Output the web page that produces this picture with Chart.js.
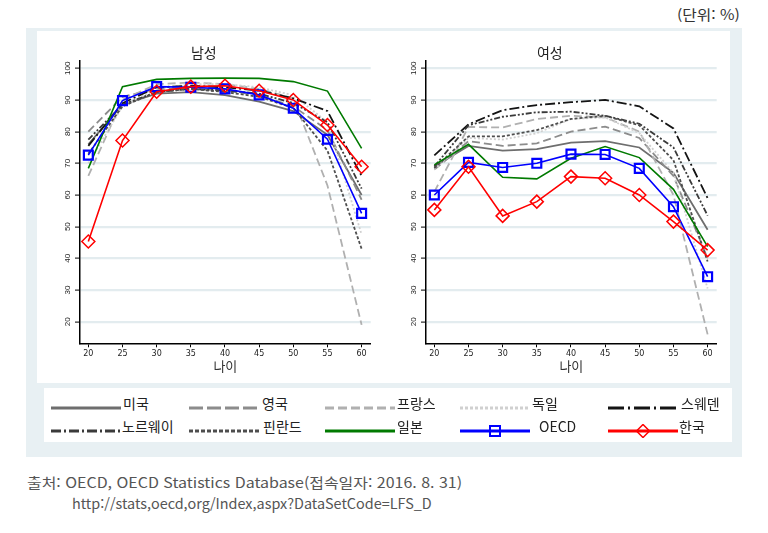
<!DOCTYPE html>
<html lang="ko">
<head>
<meta charset="UTF-8" />
<title>연령별 경제활동참가율</title>
<script src="https://cdn.jsdelivr.net/npm/chart.js"></script>
<style>
  body { margin: 0; width: 768px; height: 533px; background: #fff; position: relative; overflow: hidden;
         font-family: "Noto Sans CJK KR", "Liberation Sans", sans-serif; }
  .abs { position: absolute; }
  #frame { left: 26px; top: 28px; width: 716px; height: 429px; background: #e8f0f3; }
  #plots { left: 37px; top: 31px; width: 693px; height: 352px; background: #fff; }
  #legendBox { left: 44px; top: 388px; width: 688px; height: 54px; background: #fff; }
  .txt { white-space: nowrap; transform-origin: 0 50%; line-height: 16px; }
  .leg { font-size: 14px; color: #222; }
  .src { font-size: 14px; color: #555; }
</style>
</head>
<body>
<div id="frame" class="abs"></div>
<div id="plots" class="abs"></div>
<div id="legendBox" class="abs"></div>
<canvas id="maleChart" class="abs" style="left:37px;top:31px" width="360" height="352"></canvas>
<canvas id="femaleChart" class="abs" style="left:383px;top:31px" width="347" height="352"></canvas>
<div id="unit" class="abs txt src" style="left:677px;top:6px;color:#333">(단위: %)</div>
<div id="src1" class="abs txt src" style="left:27px;top:474px">출처: OECD, OECD Statistics Database(접속일자: 2016. 8. 31)</div>
<div id="src2" class="abs txt src" style="left:72px;top:495px">http://stats,oecd,org/Index,aspx?DataSetCode=LFS_D</div>

<script>
  // 연령 (x축)
  const ages = [20, 25, 30, 35, 40, 45, 50, 55, 60];
  const yTicks = [20, 30, 40, 50, 60, 70, 80, 90, 100];
  const countries = ["미국", "영국", "프랑스", "독일", "스웨덴", "노르웨이", "핀란드", "일본", "OECD", "한국"];

  // 남성
  const maleUS      = [76, 88.5, 92, 92.5, 91.5, 89.5, 86.5, 79, 60];
  const maleUK      = [80, 91, 93.5, 93.5, 93, 91.5, 88, 80.5, 58.5];
  const maleFrance  = [66, 90, 95, 95.5, 95, 93.5, 90.5, 63, 19];
  const maleGermany = [70, 88, 93.5, 95, 95, 94, 91.5, 83, 47.5];
  const maleSweden  = [75.5, 89, 94, 94.5, 94, 93, 90.5, 86.5, 66];
  const maleNorway  = [77.5, 88.5, 92.5, 93.5, 93, 92, 89, 83, 62];
  const maleFinland = [73, 88, 92.5, 93.5, 92.5, 91, 87.5, 74, 43];
  const maleJapan   = [68.4, 94.2, 96.5, 96.8, 96.9, 96.8, 95.8, 92.8, 74.7];
  const maleOECD    = [72.6, 89.8, 94.2, 94.0, 93.5, 91.6, 87.4, 77.6, 54.2];
  const maleKorea   = [45.3, 77.2, 92.6, 94.2, 94.5, 92.9, 90.0, 82.1, 68.9];

  // 여성
  const femaleUS      = [69, 75.5, 74, 74.5, 76.5, 77, 75, 67, 49];
  const femaleUK      = [68, 77, 75.5, 76.3, 80, 81.6, 78, 66, 40];
  const femaleFrance  = [61, 81.5, 81.3, 84, 85, 84.5, 80, 60, 16];
  const femaleGermany = [68, 78, 77.5, 79.5, 84, 84.5, 79.5, 67, 30.5];
  const femaleSweden  = [72.5, 82.3, 86.8, 88.4, 89.3, 90, 88, 81, 59];
  const femaleNorway  = [69, 82, 84.7, 86.1, 86.3, 85, 82.5, 75, 53.5];
  const femaleFinland = [68.5, 78.5, 78.5, 80.5, 84, 85, 82, 71, 39];
  const femaleJapan   = [69.5, 76.0, 65.6, 65.1, 71.6, 75.3, 71.8, 61.8, 43.7];
  const femaleOECD    = [60.0, 70.3, 68.7, 70.0, 72.9, 72.8, 68.4, 56.3, 34.2];
  const femaleKorea   = [55.3, 68.9, 53.4, 57.9, 65.8, 65.3, 60.0, 51.6, 42.6];

  // 선 스타일
  const lineColors = ["#6e6e6e", "#8c8c8c", "#b0b0b0", "#d0d0d0", "#141414", "#3a3a3a", "#4e4e4e", "#007a00", "#0000ff", "#ff0000"];
  const chartDash = [[], [8, 4], [8, 4], [2, 2], [10, 3, 2, 3], [6, 2, 2, 2, 2, 2], [3, 2], [], [], []];
  const legendDash = [[], [14, 4], [9, 4], [3, 2], [16, 4, 2, 4], [10, 3, 2, 3], [4, 2], [], [], []];

  function makeDatasets(series) {
    return series.map((vals, i) => ({
      label: countries[i],
      data: ages.map((a, j) => ({ x: a, y: vals[j] })),
      borderColor: lineColors[i],
      borderDash: chartDash[i],
      borderWidth: i >= 7 ? 1.6 : 1.8,
      backgroundColor: "rgba(0,0,0,0)",
      pointStyle: i === 8 ? "rect" : "rectRot",
      pointRadius: i === 8 ? 6.3 : i === 9 ? 6.5 : 0,
      pointBorderWidth: i === 8 ? 2.2 : 1.5,
      pointBackgroundColor: "rgba(0,0,0,0)",
      pointBorderColor: lineColors[i],
      tension: 0,
      order: i === 9 ? 0 : i === 8 ? 1 : i === 7 ? 2 : 10 - i,
    }));
  }

  // 세로 눈금 글자 (회전)
  const rotatedYLabels = {
    id: "rotatedYLabels",
    afterDraw(chart) {
      const ctx = chart.ctx;
      const y = chart.scales.y;
      ctx.save();
      ctx.fillStyle = "#222";
      ctx.font = '8px "Liberation Sans"';
      ctx.textAlign = "center";
      ctx.textBaseline = "middle";
      yTicks.forEach((v) => {
        ctx.save();
        ctx.translate(chart.chartArea.left - 12, y.getPixelForValue(v));
        ctx.rotate(-Math.PI / 2);
        ctx.fillText(String(v), 0, 0);
        ctx.restore();
      });
      ctx.restore();
    },
  };

  function makeChart(id, title, series, padRight) {
    const ctx = document.getElementById(id).getContext("2d");
    return new Chart(ctx, {
      type: "line",
      data: { datasets: makeDatasets(series) },
      options: {
        responsive: false,
        animation: false,
        layout: { autoPadding: false, padding: { top: 0, left: 0, right: padRight, bottom: 0 } },
        plugins: {
          legend: { display: false },
          tooltip: { enabled: false },
          title: {
            display: true,
            text: title,
            color: "#222",
            font: { family: "Noto Sans CJK KR", size: 14, weight: "normal", lineHeight: 1.2 },
            padding: { top: 13.2, bottom: 0 },
          },
        },
        scales: {
          x: {
            type: "linear",
            min: 18.78,
            max: 61.33,
            afterBuildTicks: (s) => { s.ticks = ages.map((v) => ({ value: v })); },
            afterFit: (s) => { s.height = 39.7; },
            grid: { drawOnChartArea: false, tickLength: 4, tickColor: "#000", tickWidth: 1 },
            border: { color: "#000", width: 1.5 },
            ticks: { color: "#222", padding: 2, maxRotation: 0, font: { family: "DejaVu Sans", size: 8 } },
            title: {
              display: true,
              text: "나이",
              color: "#333",
              font: { family: "Noto Sans CJK KR", size: 13, lineHeight: 1.2 },
              padding: { top: 0, bottom: 9 },
            },
          },
          y: {
            min: 13.18,
            max: 102.3,
            afterBuildTicks: (s) => { s.ticks = yTicks.map((v) => ({ value: v })); },
            afterFit: (s) => { s.width = 43; },
            grid: { color: "#e3ecef", lineWidth: 2.2, tickLength: 5, tickColor: "#000", tickWidth: 1 },
            border: { color: "#000", width: 1.5 },
            ticks: { display: false },
          },
        },
      },
      plugins: [rotatedYLabels],
    });
  }

  makeChart("maleChart", "남성",
    [maleUS, maleUK, maleFrance, maleGermany, maleSweden, maleNorway, maleFinland, maleJapan, maleOECD, maleKorea], 26.3);
  makeChart("femaleChart", "여성",
    [femaleUS, femaleUK, femaleFrance, femaleGermany, femaleSweden, femaleNorway, femaleFinland, femaleJapan, femaleOECD, femaleKorea], 13.3);

  // 범례
  const legendX = [51, 189, 325, 460, 608];
  const legendTextX = [[123, 262, 397, 532, 681], [122, 263, 397, 539, 679]];
  const legendY = [403, 426];
  countries.forEach((name, i) => {
    const row = Math.floor(i / 5), col = i % 5;
    const x0 = legendX[col], y0 = legendY[row];
    const w = 70;
    let marker = "";
    if (i === 8) marker = `<rect x="${w / 2 - 5}" y="2" width="10" height="10" fill="none" stroke="${lineColors[i]}" stroke-width="2"/>`;
    if (i === 9) marker = `<polygon points="${w / 2},0.5 ${w / 2 + 6.5},7 ${w / 2},13.5 ${w / 2 - 6.5},7" fill="none" stroke="${lineColors[i]}" stroke-width="1.5"/>`;
    const svg = document.createElement("div");
    svg.className = "abs";
    svg.style.left = x0 + "px";
    svg.style.top = y0 - 7 + "px";
    svg.innerHTML = `<svg width="${w}" height="14"><line x1="0" y1="7" x2="${w}" y2="7" stroke="${lineColors[i]}" stroke-width="3" stroke-dasharray="${legendDash[i].join(",")}"/>${marker}</svg>`;
    document.body.appendChild(svg);
    const t = document.createElement("div");
    t.className = "abs txt leg";
    t.style.left = legendTextX[row][col] + "px";
    t.style.top = y0 - 8 + "px";
    t.textContent = name;
    document.body.appendChild(t);
  });

  // 글자 폭 맞춤
  function fitWidth(id, target) {
    const el = document.getElementById(id);
    el.style.display = "inline-block";
    el.style.transform = `scaleX(${target / el.offsetWidth})`;
  }
  fitWidth("src1", 435);
  fitWidth("src2", 360);
  fitWidth("unit", 63);
</script>
</body>
</html>
